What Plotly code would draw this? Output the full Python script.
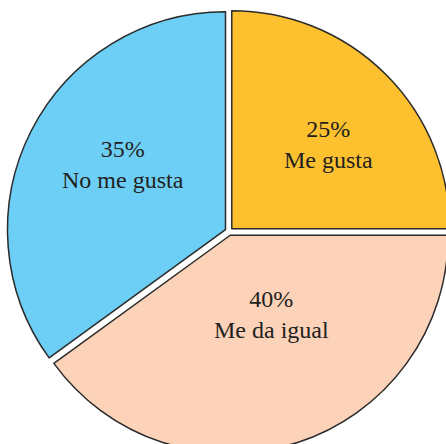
import plotly.graph_objects as go

labels = ["Me gusta", "Me da igual", "No me gusta"]
values = [25, 40, 35]
colors = ["#FDC02F", "#FCD2B8", "#6DCFF6"]

total = sum(values)
label_texts = [f"{v / total * 100:.0f}%<br>{lab}" for lab, v in zip(labels, values)]

# figure canvas slightly larger than the window so the pie is cropped like the original
W, H = 452, 456
PULL = 0.018
CX, CY, R = 229.0, 231.5, 218.0          # pie centre / radius in pixels
half = R * (1 + PULL)
dom_x = [(CX - half) / W, (CX + half) / W]
dom_y = [1 - (CY + half) / H, 1 - (CY - half) / H]

fig = go.Figure(go.Pie(
    labels=labels,
    values=values,
    sort=False,
    direction="clockwise",
    rotation=0,
    pull=[PULL] * len(values),
    marker=dict(colors=colors, line=dict(color="#2a2a2a", width=1.5)),
    textinfo="none",
    showlegend=False,
    hoverinfo="skip",
    domain=dict(x=dom_x, y=dom_y),
))

# label centres in pixels, same order as labels
label_px = [(328, 145), (271, 314), (123, 164)]
for txt, (px, py) in zip(label_texts, label_px):
    fig.add_annotation(
        x=px / W, y=1 - py / H, xref="paper", yref="paper",
        text=txt, showarrow=False,
        xanchor="center", yanchor="middle",
        font=dict(family="Liberation Serif", size=24, color="#231F20"),
    )

fig.update_layout(
    width=W,
    height=H,
    margin=dict(l=0, r=0, t=0, b=0),
    paper_bgcolor="white",
    plot_bgcolor="white",
)

fig.write_html(
    "out.html",
    config={"displayModeBar": False},
    post_script="document.body.style.margin='0';document.body.style.overflow='hidden';",
)
